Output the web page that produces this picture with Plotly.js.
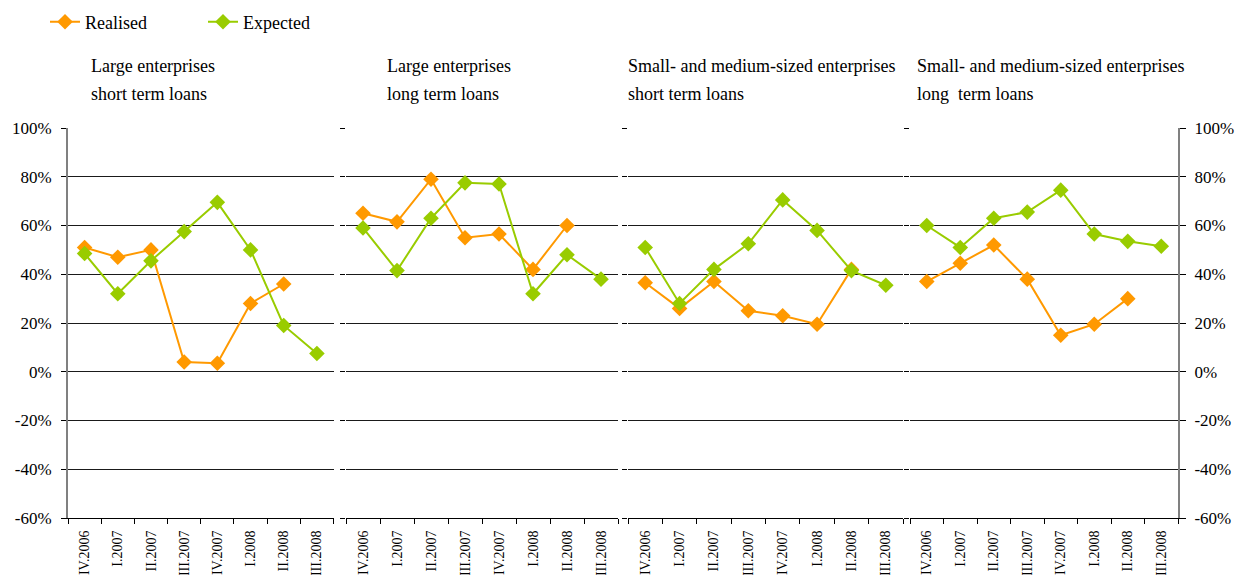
<!DOCTYPE html>
<html>
<head>
<meta charset="utf-8">
<script src="https://cdn.plot.ly/plotly-3.0.1.min.js"></script>
<style>
  html, body { margin: 0; padding: 0; background: #ffffff; }
  #chart { width: 1238px; height: 575px; }
</style>
</head>
<body>
<div id="chart"></div>
<script>
// Quarters on the category axis
const quarters = ['IV.2006', 'I.2007', 'II.2007', 'III.2007', 'IV.2007', 'I.2008', 'II.2008', 'III.2008'];

// Share of respondents (%), realised vs expected, by segment
const realisedLargeShort = [51, 47, 50, 4, 3.5, 28, 36];
const expectedLargeShort = [48.5, 32, 45.5, 57.5, 69.5, 50, 19, 7.5];

const realisedLargeLong = [65, 61.5, 79, 55, 56.5, 42, 60];
const expectedLargeLong = [59, 41.5, 63, 77.5, 77, 32, 48, 38];

const realisedSmeShort = [36.5, 26, 37, 25, 23, 19.5, 42];
const expectedSmeShort = [51, 28, 42, 52.5, 70.5, 58, 41.5, 35.5];

const realisedSmeLong = [37, 44.5, 52, 38, 15, 19.5, 30];
const expectedSmeLong = [60, 51, 63, 65.5, 74.5, 56.5, 53.5, 51.5];

// Percentage ticks
const yTickVals = [-60, -40, -20, 0, 20, 40, 60, 80, 100];
const yTickText = ['-60%', '-40%', '-20%', '0%', '20%', '40%', '60%', '80%', '100%'];

// Panel headings (two lines each)
const panelTitles = [
  ['Large enterprises', 'short term loans'],
  ['Large enterprises', 'long term loans'],
  ['Small- and medium-sized enterprises', 'short term loans'],
  ['Small- and medium-sized enterprises', 'long  term loans']
];

const seriesNames = ['Realised', 'Expected'];

const W = 1238, H = 575;
const FONT = '"Liberation Serif", "Times New Roman", serif';
const ORANGE = '#FF9900';
const GREEN = '#99CC00';

// Panel edges in pixels
const panelX = [[68, 333.5], [346, 618], [628, 903], [910, 1178]];
const plotTop = 128, plotBottom = 518;
const yDomain = [1 - plotBottom / H, 1 - plotTop / H];

const panels = [
  [realisedLargeShort, expectedLargeShort],
  [realisedLargeLong, expectedLargeLong],
  [realisedSmeShort, expectedSmeShort],
  [realisedSmeLong, expectedSmeLong]
];

const traces = [];
panels.forEach((p, i) => {
  const sfx = i === 0 ? '' : String(i + 1);
  [ORANGE, GREEN].forEach((col, k) => {
    traces.push({
      type: 'scatter',
      mode: 'lines+markers',
      name: seriesNames[k],
      x: quarters.slice(0, p[k].length),
      y: p[k],
      xaxis: 'x' + sfx,
      yaxis: 'y' + sfx,
      showlegend: i === 0,
      line: { color: col, width: 2 },
      marker: { symbol: 'diamond', size: 12, color: col },
      hoverinfo: 'x+y+name'
    });
  });
});

const layout = {
  width: W,
  height: H,
  margin: { l: 0, r: 0, t: 0, b: 0 },
  paper_bgcolor: '#ffffff',
  plot_bgcolor: '#ffffff',
  font: { family: FONT, size: 17, color: '#000000' },
  showlegend: true,
  legend: {
    orientation: 'h',
    x: 45 / W,
    xanchor: 'left',
    y: 1 - 22 / H,
    yanchor: 'middle',
    font: { family: FONT, size: 18, color: '#000000' },
    entrywidth: 113,
    entrywidthmode: 'pixels',
    bgcolor: 'rgba(0,0,0,0)',
    borderwidth: 0,
    itemclick: false,
    itemdoubleclick: false
  },
  annotations: [],
  hovermode: 'closest'
};

panelX.forEach((px, i) => {
  const sfx = i === 0 ? '' : String(i + 1);
  layout['xaxis' + sfx] = {
    domain: [px[0] / W, px[1] / W],
    anchor: 'y' + sfx,
    type: 'category',
    range: [-0.5, 7.5],
    tickson: 'boundaries',
    ticks: 'outside',
    ticklen: 5,
    tickcolor: '#000000',
    showline: true,
    linecolor: '#000000',
    linewidth: 1,
    showgrid: false,
    zeroline: false,
    tickangle: -90,
    tickfont: { family: FONT, size: 14, color: '#000000' },
    ticklabelstandoff: 6,
    fixedrange: true
  };
  layout['yaxis' + sfx] = {
    domain: yDomain,
    anchor: 'x' + sfx,
    range: [-60, 100],
    tickvals: yTickVals,
    ticktext: yTickText,
    showticklabels: i === 0,
    ticks: 'outside',
    ticklen: 5,
    tickcolor: '#000000',
    showline: i === 0,
    linecolor: '#808080',
    linewidth: 2,
    showgrid: true,
    gridcolor: '#1a1a1a',
    gridwidth: 1,
    zeroline: false,
    tickfont: { family: FONT, size: 17, color: '#000000' },
    ticklabelstandoff: 6,
    fixedrange: true
  };
});

// Right-hand percentage scale on the last panel
layout.yaxis5 = {
  overlaying: 'y4',
  anchor: 'x4',
  side: 'right',
  range: [-60, 100],
  tickvals: yTickVals,
  ticktext: yTickText,
  ticks: 'outside',
  ticklen: 6,
  tickcolor: '#000000',
  showline: true,
  linecolor: '#808080',
  linewidth: 2,
  showgrid: false,
  zeroline: false,
  tickfont: { family: FONT, size: 17, color: '#000000' },
  ticklabelstandoff: 5,
  fixedrange: true
};
// an invisible carrier so the right-hand axis is drawn
traces.push({
  type: 'scatter',
  mode: 'markers',
  x: [], y: [],
  xaxis: 'x4',
  yaxis: 'y5',
  showlegend: false,
  hoverinfo: 'skip'
});

// Panel headings
const titleX = [89, 385, 626, 915];
panelTitles.forEach((lines, i) => {
  lines.forEach((txt, j) => {
    layout.annotations.push({
      xref: 'paper', yref: 'paper',
      x: titleX[i] / W,
      y: 1 - (66 + 28 * j) / H,
      xanchor: 'left', yanchor: 'middle',
      showarrow: false,
      text: txt,
      font: { family: FONT, size: 18, color: '#000000' }
    });
  });
});

Plotly.newPlot('chart', traces, layout, { displayModeBar: false, staticPlot: false });
</script>
</body>
</html>
